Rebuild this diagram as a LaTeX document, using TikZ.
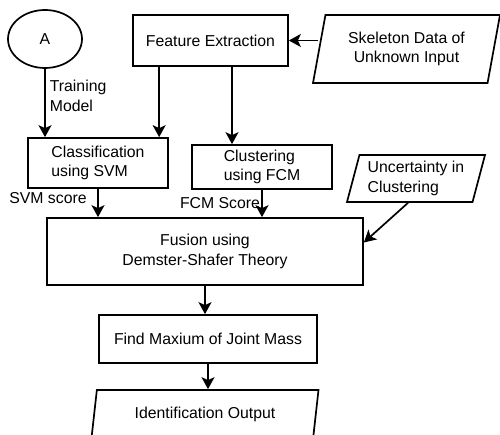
\documentclass[tikz,border=0pt]{standalone}
\usepackage{fontspec}
\setmainfont{Liberation Sans}
\usepackage{tikz}
\usetikzlibrary{shapes.geometric}
\usetikzlibrary{arrows.meta}
\tikzstyle{every node}=[inner sep=0pt, font=\fontsize{15.8}{19.5}\selectfont]
\tikzstyle{every picture}=[x=1pt, y=-1pt, line width=1.7pt]
\tikzstyle{box}=[rectangle, draw]
\tikzstyle{data}=[trapezium, draw, trapezium left angle=70,
                  trapezium right angle=110, trapezium stretches body]
\tikzstyle{arr}=[-{Stealth[length=12pt,width=13pt,inset=3pt]}]

\begin{document}
\begin{tikzpicture}
      \clip (0,0) rectangle (500,435);
      \fill[white] (0,0) rectangle (500,435);
      \node[ellipse, draw, minimum width=74pt, minimum height=58pt] (start) at (45,39) {A};
      \node[box, minimum width=155pt, minimum height=51pt] (feature) at (210.5,40.5) {Feature Extraction};
      \node[data, minimum width=187pt, minimum height=68pt, align=center]
	(skeleton) at (406.5,49) {Skeleton Data of\\Unknown Input};
      \node[box, minimum width=140pt, minimum height=50pt, align=left] (svm) at (98,163)
	{Classification\\using SVM};
      \node[box, minimum width=140pt, minimum height=44pt, align=left] (fcm) at (262,167)
	{Clustering\\using FCM};
      \node[data, minimum width=138pt, minimum height=47pt, align=left]
	(uncertain) at (416,178.5) {Uncertainty in\\Clustering};
      \node[box, minimum width=316pt, minimum height=67pt, align=center] (fusion) at (205,251.5)
	{Fusion using\\Demster-Shafer Theory};
      \node[box, minimum width=218pt, minimum height=48pt] (maxmass) at (208,339)
	{Find Maxium of Joint Mass};
      \node[data, minimum width=227pt, minimum height=48pt] (output) at (205,414)
	{Identification Output};
      \node[anchor=west, align=left] (model) at (49,96) {Training\\Model};
      \node (svmscore) at (48,198) {SVM score};
      \node (fcmscore) at (220,203) {FCM Score};
	\draw[arr] (start.south) -- (start.south |- svm.north);
	\draw[arr] ([xshift=27pt]feature.south west) -- ([xshift=27pt]feature.south west |- svm.north);
	\draw[arr] ([xshift=-30pt]fcm.north |- feature.south) -- ([xshift=-30pt]fcm.north);
	\draw[arr] (skeleton.west |- feature.east) -- (feature.east);
	\draw[arr] (svm.south) -- (svm.south |- fusion.north);
	\draw[arr] (fcm.south) -- (fcm.south |- fusion.north);
	\draw[arr] ([xshift=-8pt]uncertain.south) -- ([yshift=9pt]fusion.east);
	\draw[arr] (fusion.south) -- (fusion.south |- maxmass.north);
	\draw[arr] (maxmass.south) -- (maxmass.south |- output.north);
    \end{tikzpicture}
\end{document}
